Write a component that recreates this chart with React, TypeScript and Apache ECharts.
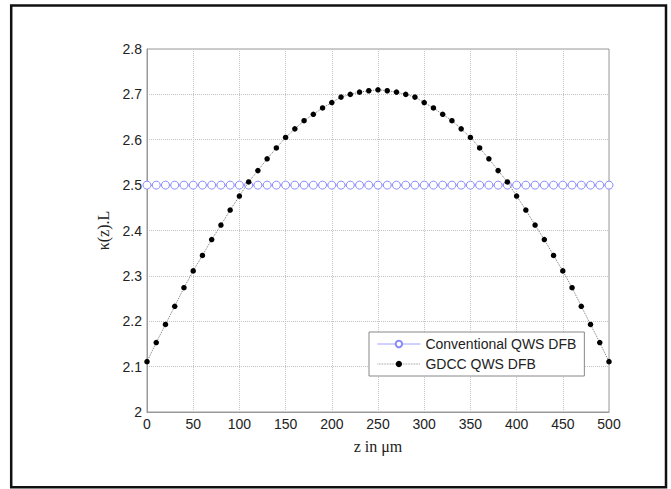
import React, { useEffect, useRef } from "react";
import * as echarts from "echarts";

const zValues = [
  0, 10, 20, 30, 40, 50, 60, 70, 80, 90, 100, 110, 120, 130, 140, 150, 160, 170, 180, 190, 200,
  210, 220, 230, 240, 250, 260, 270, 280, 290, 300, 310, 320, 330, 340, 350, 360, 370, 380, 390,
  400, 410, 420, 430, 440, 450, 460, 470, 480, 490, 500,
];

const conventional = [
  2.5, 2.5, 2.5, 2.5, 2.5, 2.5, 2.5, 2.5, 2.5, 2.5, 2.5, 2.5, 2.5, 2.5, 2.5, 2.5, 2.5, 2.5, 2.5,
  2.5, 2.5, 2.5, 2.5, 2.5, 2.5, 2.5, 2.5, 2.5, 2.5, 2.5, 2.5, 2.5, 2.5, 2.5, 2.5, 2.5, 2.5, 2.5,
  2.5, 2.5, 2.5, 2.5, 2.5, 2.5, 2.5, 2.5, 2.5, 2.5, 2.5, 2.5, 2.5,
];

const gdcc = [
  2.111, 2.153, 2.193, 2.233, 2.274, 2.311, 2.345, 2.38, 2.412, 2.445, 2.476, 2.507, 2.532, 2.558,
  2.582, 2.605, 2.624, 2.642, 2.656, 2.67, 2.682, 2.694, 2.7, 2.705, 2.708, 2.71, 2.708, 2.705,
  2.7, 2.694, 2.682, 2.67, 2.656, 2.642, 2.624, 2.605, 2.582, 2.558, 2.532, 2.507, 2.476, 2.445,
  2.412, 2.38, 2.345, 2.311, 2.274, 2.233, 2.193, 2.153, 2.111,
];

const seriesNames = ["Conventional QWS DFB", "GDCC QWS DFB"];
const xAxisTitle = "z in \u03bcm";
const yAxisTitle = "\u03ba(z).L";

export default function App() {
  const ref = useRef<HTMLDivElement>(null);

  useEffect(() => {
    if (!ref.current) return;
    const chart = echarts.init(ref.current, null, { renderer: "svg" });
    const labelFont = "Arial, 'Liberation Sans', sans-serif";
    const serifFont = "'Times New Roman', 'Liberation Serif', serif";
    chart.setOption({
      animation: false,
      backgroundColor: "#ffffff",
      graphic: [
        {
          type: "rect",
          shape: { x: 11.2, y: 5.5, width: 654.8, height: 481.7 },
          style: { fill: "none", stroke: "#111", lineWidth: 2.5 },
          z: 100,
        },
      ],
      grid: {
        left: 147,
        top: 49,
        right: 62,
        bottom: 77,
        show: true,
        borderColor: "#999",
        borderWidth: 1,
        backgroundColor: "transparent",
      },
      legend: {
        orient: "vertical",
        left: 369,
        top: 332,
        padding: [4, 8, 4, 8],
        itemWidth: 43,
        itemHeight: 8,
        itemGap: 4,
        borderColor: "#888",
        borderWidth: 1,
        backgroundColor: "#fff",
        lineStyle: { width: 0.8 },
        textStyle: { fontSize: 14, color: "#222", fontFamily: labelFont, lineHeight: 16 },
        data: [
          { name: seriesNames[0], textStyle: { fontSize: 14 } },
          { name: seriesNames[1], textStyle: { fontSize: 14 } },
        ],
      },
      xAxis: {
        type: "value",
        min: 0,
        max: 500,
        interval: 50,
        name: xAxisTitle,
        nameLocation: "middle",
        nameGap: 26,
        nameTextStyle: { fontSize: 16, color: "#222", fontFamily: serifFont },
        axisLine: { show: true, lineStyle: { color: "#999", width: 1 } },
        axisTick: { show: false },
        axisLabel: { fontSize: 14, color: "#222", fontFamily: labelFont, margin: 5 },
        splitLine: { show: true, lineStyle: { color: "#c4c4c4", type: "dotted", width: 1 } },
      },
      yAxis: {
        type: "value",
        min: 2,
        max: 2.8,
        interval: 0.1,
        name: yAxisTitle,
        nameLocation: "middle",
        nameGap: 30,
        nameTextStyle: { fontSize: 16, color: "#222", fontFamily: serifFont },
        axisLine: { show: true, lineStyle: { color: "#999", width: 1 } },
        axisTick: { show: false },
        axisLabel: { fontSize: 14, color: "#222", fontFamily: labelFont, margin: 5 },
        splitLine: { show: true, lineStyle: { color: "#c4c4c4", type: "dotted", width: 1 } },
      },
      series: [
        {
          name: seriesNames[0],
          type: "line",
          data: zValues.map((z, i) => [z, conventional[i]]),
          symbol: "circle",
          symbolSize: 8,
          showAllSymbol: true,
          itemStyle: { color: "#fff", borderColor: "#8a8aff", borderWidth: 1 },
          lineStyle: { color: "#8a8aff", width: 0.8 },
          z: 2,
        },
        {
          name: seriesNames[1],
          type: "line",
          data: zValues.map((z, i) => [z, gdcc[i]]),
          symbol: "circle",
          symbolSize: 5.5,
          showAllSymbol: true,
          itemStyle: { color: "#000", borderColor: "#000", borderWidth: 0 },
          lineStyle: { color: "#777", width: 1, type: "dotted" },
          z: 3,
        },
      ],
    });
    return () => chart.dispose();
  }, []);

  return (
    <div
      ref={ref}
      style={{ position: "fixed", left: 0, top: 0, width: 671, height: 489, background: "#fff" }}
    />
  );
}
